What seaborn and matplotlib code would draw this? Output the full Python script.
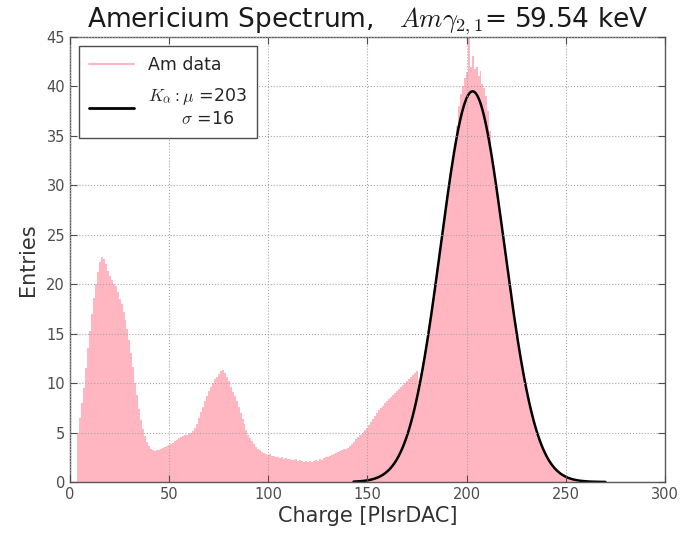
import numpy as np
import pandas as pd
import matplotlib
matplotlib.use('Agg')
import matplotlib.pyplot as plt
import seaborn as sns
from matplotlib.lines import Line2D

# histogram contents, one entry per 1-PlsrDAC bin starting at bin_start
bin_start = 4
counts = [
    5.0, 6.5, 8.0, 9.5, 11.5, 13.5,                                   # 4-9
    15.3, 17.0, 18.6, 20.0, 21.2, 22.2, 22.7, 22.5, 22.0, 21.3,       # 10-19
    20.8, 20.4, 20.0, 19.8, 19.2, 18.5, 18.0, 17.2, 16.4, 15.5,       # 20-29
    14.4, 13.0, 11.6, 10.0, 8.8, 7.4, 6.3, 5.4, 4.6, 4.0,             # 30-39
    3.6, 3.3, 3.2, 3.1, 3.2, 3.2, 3.3, 3.4, 3.5, 3.6,                 # 40-49
    3.7, 3.8, 3.9, 4.1, 4.2, 4.4, 4.5, 4.6, 4.7, 4.8,                 # 50-59
    4.9, 5.0, 5.2, 5.5, 5.9, 6.5, 7.1, 7.6, 8.2, 8.7,                 # 60-69
    9.2, 9.6, 10.0, 10.4, 10.6, 10.9, 11.2, 11.3, 11.0, 10.6,         # 70-79
    10.2, 9.6, 9.1, 8.7, 8.2, 7.6, 7.0, 6.4, 5.9, 5.3,                # 80-89
    4.8, 4.4, 4.1, 3.8, 3.5, 3.3, 3.2, 3.0, 2.9, 2.8,                 # 90-99
    2.7, 2.8, 2.6, 2.6, 2.5, 2.5, 2.4, 2.5, 2.3, 2.4,                 # 100-109
    2.3, 2.3, 2.2, 2.2, 2.3, 2.1, 2.2, 2.1, 2.0, 2.1,                 # 110-119
    2.0, 2.1, 2.0, 2.1, 2.2, 2.1, 2.3, 2.2, 2.4, 2.5,                 # 120-129
    2.5, 2.6, 2.7, 2.8, 2.9, 3.0, 3.1, 3.2, 3.3, 3.3,                 # 130-139
    3.4, 3.6, 3.8, 4.0, 4.3, 4.5, 4.7, 4.9, 5.1, 5.3,                 # 140-149
    5.5, 5.8, 6.1, 6.4, 6.7, 7.0, 7.3, 7.5, 7.7, 8.0,                 # 150-159
    8.2, 8.4, 8.6, 8.8, 9.0, 9.2, 9.4, 9.6, 9.8, 10.0,                # 160-169
    10.2, 10.4, 10.6, 10.8, 11.0, 11.2, 10.3, 11.0, 12.1, 13.2,       # 170-179
    14.5, 15.8, 17.1, 18.6, 20.0, 21.5, 23.0, 24.5, 26.0, 27.4,       # 180-189
    28.9, 30.3, 31.7, 33.0, 34.3, 36.0, 38.0, 39.2, 40.0, 40.8,       # 190-199
    41.5, 45.5, 42.0, 43.1, 41.8, 42.0, 41.0, 41.6, 40.2, 39.8,       # 200-209
    39.0, 37.5, 35.5, 33.0, 31.6, 30.2, 28.8, 27.3, 25.8, 24.3,       # 210-219
    22.8, 21.3, 19.8, 18.4, 17.0, 15.6, 14.3, 13.0, 11.9, 10.8,       # 220-229
    9.7, 8.7, 7.8, 7.0, 6.2, 5.5, 4.8, 4.2, 3.7, 3.2,                 # 230-239
    2.8, 2.4, 2.1, 1.8, 1.5, 1.3, 1.1, 0.9, 0.8, 0.6,                 # 240-249
    0.5, 0.4, 0.3, 0.3, 0.2, 0.1,                                     # 250-255
]

# gaussian fit of the K_alpha line
fit_mu = 203
fit_sigma = 16
fit_amp = 39.5
fit_range = (143, 270)

x_ticks = [0, 50, 100, 150, 200, 250, 300]
y_ticks = [0, 5, 10, 15, 20, 25, 30, 35, 40, 45]

sns.set_style('white', {
    'xtick.direction': 'in', 'ytick.direction': 'in',
    'xtick.top': True, 'ytick.right': True,
    'xtick.bottom': True, 'ytick.left': True,
    'axes.edgecolor': '0.35',
})
plt.rcParams['font.family'] = ['DejaVu Sans']
plt.rcParams['mathtext.fontset'] = 'cm'

fig = plt.figure(figsize=(6.82, 5.35), dpi=100)
ax = fig.add_axes([0.1026, 0.0991, 0.8724, 0.8319])

df = pd.DataFrame({
    'charge': np.arange(bin_start, bin_start + len(counts)),
    'entries': counts,
})
sns.histplot(data=df, x='charge', weights='entries', discrete=True,
             element='step', fill=True, color='lightpink', alpha=1.0,
             linewidth=0, ax=ax)

xf = np.linspace(fit_range[0], fit_range[1], 400)
yf = fit_amp * np.exp(-(xf - fit_mu) ** 2 / (2 * fit_sigma ** 2))
sns.lineplot(x=xf, y=yf, color='black', linewidth=1.8, ax=ax)

ax.set_xlim(0, 300)
ax.set_ylim(0, 45)
ax.set_xticks(x_ticks)
ax.set_yticks(y_ticks)
ax.tick_params(labelsize=10.5, colors='0.3', length=5, width=0.8)
ax.grid(True, linestyle=':', color='0.65', linewidth=0.8)
ax.set_axisbelow(False)
for sp in ax.spines.values():
    sp.set_linewidth(1.0)

ax.set_xlabel('Charge [PlsrDAC]', fontsize=15, color='0.2', labelpad=3)
ax.set_ylabel('Entries', fontsize=15, color='0.2', labelpad=6)
ax.set_title(r'Americium Spectrum,   $Am\gamma_{2,1}$= 59.54 keV', fontsize=19, color='0.1', pad=2)

handles = [Line2D([], [], color='lightpink', linewidth=1.5),
           Line2D([], [], color='black', linewidth=2)]
labels = ['Am data', r'$K_{\alpha}: \mu$ =203' + '\n' + r'      $\sigma$ =16']
leg = ax.legend(handles, labels, loc='upper left', fontsize=12.5, fancybox=False,
                frameon=True, edgecolor='0.3', framealpha=1, borderpad=0.6,
                handlelength=2.6, labelspacing=0.7, borderaxespad=0.5)
leg.get_frame().set_linewidth(1.0)

fig.savefig('out.png', dpi=100)
